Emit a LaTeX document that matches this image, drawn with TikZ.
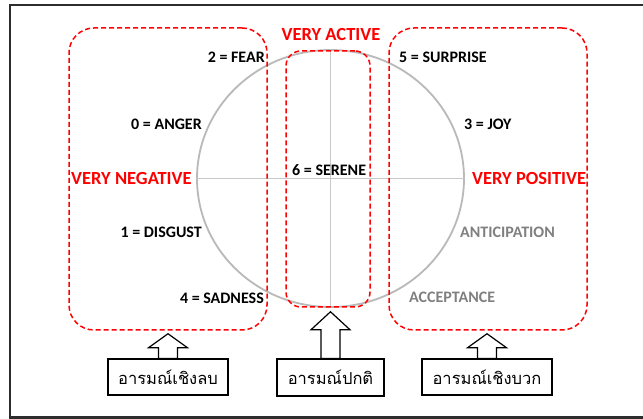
\documentclass[tikz,border=0pt]{standalone}
\usepackage{fontspec}
\setmainfont{Carlito}
\newfontfamily\thaifont[Script=Thai]{Loma}
\usetikzlibrary{shapes.geometric,calc}
\definecolor{framegray}{RGB}{45,45,45}
\definecolor{circgray}{RGB}{185,185,185}
\definecolor{axisgray}{RGB}{200,200,200}
\definecolor{labgray}{RGB}{128,128,128}
\definecolor{vred}{RGB}{255,0,0}
\tikzset{
  dashbox/.style={draw=vred, line width=1.5pt, dash pattern=on 5pt off 3pt, rectangle, inner sep=0pt},
  lab/.style={font=\fontsize{16}{18}\selectfont\bfseries, inner sep=0pt, text=black},
  redlab/.style={font=\fontsize{18.5}{20}\selectfont\bfseries, inner sep=0pt, text=vred},
  graylab/.style={font=\fontsize{16}{18}\selectfont\bfseries, inner sep=0pt, text=labgray},
  thaibox/.style={draw=black, line width=1.2pt, rectangle, inner sep=0pt, font=\thaifont\fontsize{16.5}{20}\selectfont},
  blockarr/.style={draw=black, line width=1.2pt, fill=white, line join=miter}
}
\newcommand\blockarrow[3]{%
  \draw[blockarr] let \p1=(#1.north), \p2=(#2) in
   (\x1-9.5pt,\y1) -- (\x1-9.5pt,\y2-#3) -- (\x1-19.5pt,\y2-#3) -- (\x1,\y2)
   -- (\x1+19.5pt,\y2-#3) -- (\x1+9.5pt,\y2-#3) -- (\x1+9.5pt,\y1) -- cycle;}
\begin{document}
\begin{tikzpicture}[x=1pt,y=-1pt]
\clip (0,0) rectangle (643,419);
\fill[white] (0,0) rectangle (643,419);
% frame (open to the right)
\draw[framegray, line width=2.5pt] (660,5) -- (10,5) -- (10,417.5) -- (660,417.5);
% circle and axes
\node[ellipse, draw=circgray, line width=1.8pt, inner sep=0pt, minimum width=267pt, minimum height=257pt] (circ) at (330.5,178.5) {};
\draw[axisgray, line width=1pt] (circ.west) -- (circ.east);
\draw[axisgray, line width=1pt] (circ.north) -- (circ.south);
% dashed regions
\node[dashbox, rounded corners=25pt, minimum width=198pt, minimum height=302pt] (neg) at (168,179) {};
\node[dashbox, rounded corners=15pt, minimum width=84pt, minimum height=256pt] (act) at (328,179) {};
\node[dashbox, rounded corners=25pt, minimum width=198pt, minimum height=302pt] (pos) at (488,179) {};
% labels
\node[lab, anchor=east] (fear) at (265,57) {2 = FEAR};
\node[lab, anchor=east] (anger) at (202,124) {0 = ANGER};
\node[redlab, anchor=west] (vneg) at (71,179) {VERY NEGATIVE};
\node[lab, anchor=west] (serene) at (292,170) {6 = SERENE};
\node[redlab] (vact) at (331,35) {VERY ACTIVE};
\node[lab, anchor=west] (surprise) at (399,57) {5 = SURPRISE};
\node[lab, anchor=west] (joy) at (464,124) {3 = JOY};
\node[redlab, anchor=west] (vpos) at (472,179) {VERY POSITIVE};
\node[lab, anchor=east] (disgust) at (202,232) {1 = DISGUST};
\node[lab, anchor=east] (sadness) at (264,298) {4 = SADNESS};
\node[graylab, anchor=west] (anticip) at (460,232) {ANTICIPATION};
\node[graylab, anchor=west] (accept) at (409,297) {ACCEPTANCE};
% bottom boxes
\node[thaibox, minimum width=120pt, minimum height=36pt] (negbox) at (168,377) {อารมณ์เชิงลบ};
\node[thaibox, minimum width=107pt, minimum height=37pt] (actbox) at (330.5,377.5) {อารมณ์ปกติ};
\node[thaibox, minimum width=130pt, minimum height=36pt] (posbox) at (487,377) {อารมณ์เชิงบวก};
% block arrows
\coordinate (negtip) at ($(neg.south)+(0,3)$);
\coordinate (acttip) at ($(act.south)+(0,4)$);
\coordinate (postip) at ($(pos.south)+(0,3)$);
\blockarrow{negbox}{negtip}{14pt}
\blockarrow{actbox}{acttip}{18pt}
\blockarrow{posbox}{postip}{14pt}
\end{tikzpicture}
\end{document}
